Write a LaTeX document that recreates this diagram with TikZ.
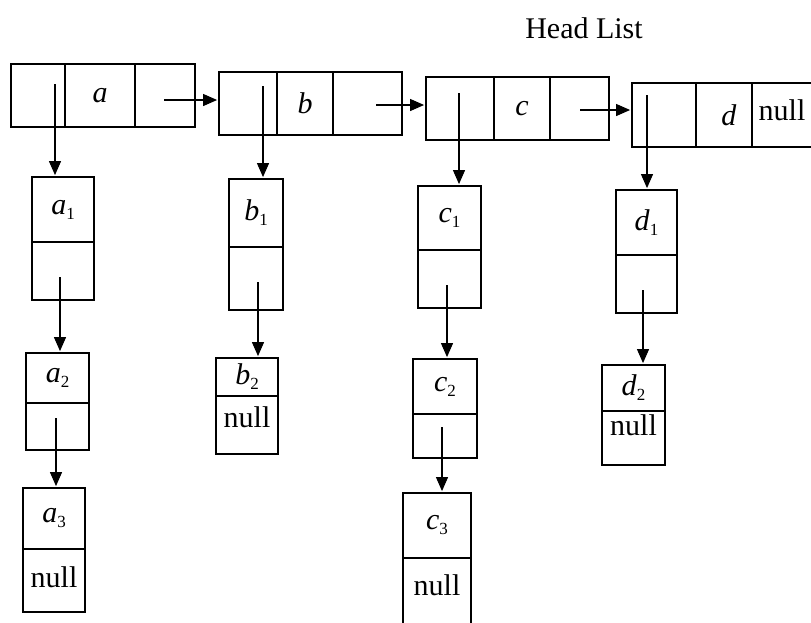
\documentclass[tikz,border=0pt]{standalone}
\usepackage{fontspec}
\setmainfont{Liberation Serif}
\usepackage{tikz}
\usetikzlibrary{positioning}
\usetikzlibrary{arrows.meta}
\tikzstyle{cell}=[draw=black,line width=1.8pt,inner sep=0pt,font=\fontsize{30}{36}\selectfont]
\tikzstyle{txt}=[inner sep=0pt,font=\fontsize{30}{36}\selectfont]
\tikzstyle{edge} = [draw,line width=1.1pt,-{Triangle[length=14pt,width=12pt]},shorten >=1pt]
\newcommand{\lsub}[1]{\raisebox{-5pt}{\fontsize{17}{18}\selectfont #1}}

\begin{document}
\begin{tikzpicture}[x=1pt,y=-1pt]
  \useasboundingbox (0,0) rectangle (811,622);

  \node[txt] (title) at (584,28) {Head List};

  % head list: pointer cell, value cell, next cell
  \foreach \pos/\name/\w/\h/\label in {{(38,95.5)/pa/54pt/63pt/{}}, {(100,95.5)/va/70pt/63pt/{\textit{a}}}, {(165,95.5)/na/60pt/63pt/{}},
      {(248,103.5)/pb/58pt/63pt/{}}, {(305,103.5)/vb/56pt/63pt/{\textit{b}}}, {(367.5,103.5)/nb/69pt/63pt/{}},
      {(460,108.5)/pc/68pt/63pt/{}}, {(522,108.5)/vc/56pt/63pt/{\textit{c}}}, {(579.5,108.5)/nc/59pt/63pt/{}},
      {(664,115)/pd/64pt/64pt/{}}, {(724,115)/vd/56pt/64pt/{\hspace*{10pt}\textit{d}}}, {(782,115)/nd/60pt/64pt/{}}}
        \node[cell,minimum width=\w,minimum height=\h] (\name) at \pos {\label};

  % sub lists, two cells each
  \foreach \pos/\name/\w/\h/\label in {{(63,209.5)/a1t/62pt/65pt/{\textit{a}\lsub{1}}}, {(63,271)/a1b/62pt/58pt/{}},
      {(57.5,378)/a2t/63pt/50pt/{\textit{a}\lsub{2}}}, {(57.5,426.5)/a2b/63pt/47pt/{}},
      {(54,518.5)/a3t/62pt/61pt/{\textit{a}\lsub{3}}}, {(54,580.5)/a3b/62pt/63pt/{}},
      {(256,213)/b1t/54pt/68pt/{\textit{b}\lsub{1}}}, {(256,278.5)/b1b/54pt/63pt/{}},
      {(247,377)/b2t/62pt/38pt/{\textit{b}\lsub{2}}}, {(247,425)/b2b/62pt/58pt/{}},
      {(449.5,218)/c1t/63pt/64pt/{\textit{c}\lsub{1}}}, {(449.5,279)/c1b/63pt/58pt/{}},
      {(445,386.5)/c2t/64pt/55pt/{\textit{c}\lsub{2}}}, {(445,436)/c2b/64pt/44pt/{}},
      {(437,525.5)/c3t/68pt/65pt/{\textit{c}\lsub{3}}}, {(437,599)/c3b/68pt/82pt/{}},
      {(646.5,222.5)/d1t/61pt/65pt/{\textit{d}\lsub{1}}}, {(646.5,284)/d1b/61pt/58pt/{}},
      {(633.5,388)/d2t/63pt/46pt/{\textit{d}\lsub{2}}}, {(633.5,438)/d2b/63pt/54pt/{}}}
        \node[cell,minimum width=\w,minimum height=\h] (\name) at \pos {\label};

  % null markers
  \foreach \cell/\gap in {nd/17pt, a3b/18pt, b2b/11pt, c3b/17pt, d2b/4pt}
        \node[txt,below=\gap of \cell.north] (null\cell) {null};

  % next pointers along the head list
  \foreach \src/\x/\y/\dest in {na/164/100/pb, nb/376/105/pc, nc/580/110/pd}
  {
        \coordinate (s\src) at (\x,\y);
        \path[edge] (s\src) -- (s\src -| \dest.west);
  }

  % down pointers
  \foreach \src/\x/\y/\dest in {pa/55/84/a1t, pb/263/86/b1t, pc/459/93/c1t, pd/647/95/d1t,
      a1b/60/277/a2t, a2b/56/418/a3t, b1b/258/282/b2t, c1b/447/285/c2t, c2b/442/427/c3t, d1b/643/290/d2t}
  {
        \coordinate (s\src) at (\x,\y);
        \path[edge] (s\src) -- (s\src |- \dest.north);
  }

\end{tikzpicture}
\end{document}
